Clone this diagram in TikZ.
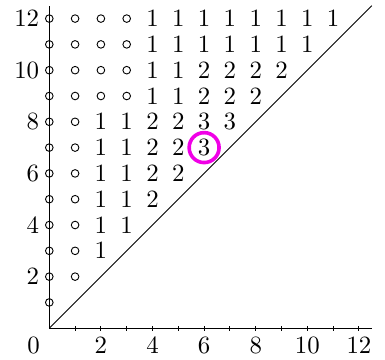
\documentclass[tikz,border=0pt]{standalone}
\usepackage{xcolor}
\usepackage{tikz}
\definecolor{markpink}{RGB}{240,0,230}
\font\numfont=cmr10 at 13.7pt

\begin{document}
\begin{tikzpicture}[
  x=0.5cm, y=0.5cm,
  font=\numfont,
  dot/.style={draw, circle, inner sep=0pt, minimum size=4.2pt, line width=0.5pt},
  num/.style={inner sep=0pt, anchor=center},
  ylab/.style={inner sep=0pt, anchor=east},
  xlab/.style={inner sep=0pt, anchor=center},
  axis/.style={line width=0.7pt},
  mark3/.style={draw=markpink, line width=2pt},
]
\useasboundingbox (-1.91,-1.23) rectangle (13.01,12.72);
%% Axes and diagonal
\coordinate (o)    at (0,0);
\coordinate (xend) at (12.5,0);
\coordinate (yend) at (0,12.5);
\coordinate (dend) at (12.5,12.5);
\draw[axis] (o) -- (xend);
\draw[axis] (o) -- (yend);
\draw[line width=0.5pt] (o) -- (dend);
\foreach \i in {1,...,12}
  \draw[line width=0.5pt] (\i,-0.09) -- (\i,0.09);
%% Labels
\node[xlab] (zero) at (-0.61,-0.67) {0};
\foreach \i in {2,4,...,12} {
  \node[xlab] (xl-\i) at (\i,-0.67) {\i};
  \node[ylab] (yl-\i) at (-0.38,\i) {\i};
}
%% Table (0 = open dot)
\foreach \row [count=\j] in {{0}, {0,0}, {0,0,1}, {0,0,1,1}, {0,0,1,1,2},
    {0,0,1,1,2,2}, {0,0,1,1,2,2,3}, {0,0,1,1,2,2,3,3},
    {0,0,0,0,1,1,2,2,2}, {0,0,0,0,1,1,2,2,2,2},
    {0,0,0,0,1,1,1,1,1,1,1}, {0,0,0,0,1,1,1,1,1,1,1,1}} {
  \foreach \v [count=\i from 0] in \row {
    \ifnum\v=0
      \node[dot] (p-\i-\j) at (\i,\j) {};
    \else
      \node[num] (p-\i-\j) at (\i,\j) {\v};
    \fi
  }
}
\draw[mark3] (p-6-7) circle (0.58);
\end{tikzpicture}
\end{document}
